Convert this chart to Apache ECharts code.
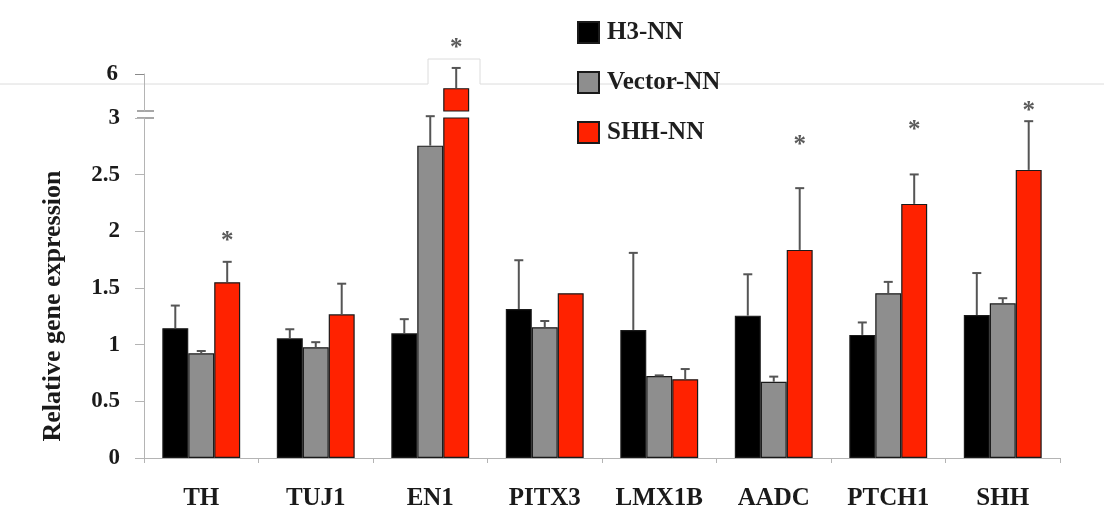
<!DOCTYPE html>
<html>
<head>
<meta charset="utf-8">
<script src="https://cdn.jsdelivr.net/npm/echarts@6/dist/echarts.min.js"></script>
<style>
  html, body { margin: 0; padding: 0; background: #fff; }
  #chart { width: 1104px; height: 512px; }
</style>
</head>
<body>
<div id="chart"></div>
<script>
// Relative expression of marker genes in three neuron cultures (mean, upper SD)
const genes = ['TH', 'TUJ1', 'EN1', 'PITX3', 'LMX1B', 'AADC', 'PTCH1', 'SHH'];
const seriesNames = ['H3-NN', 'Vector-NN', 'SHH-NN'];

const h3 = [1.145, 1.056, 1.10, 1.315, 1.13, 1.256, 1.086, 1.262];
const h3Err = [0.20, 0.08, 0.125, 0.43, 0.68, 0.365, 0.11, 0.37];

const vector = [0.924, 0.977, 2.756, 1.154, 0.724, 0.673, 1.454, 1.365];
const vectorErr = [0.02, 0.045, 0.26, 0.055, 0.005, 0.045, 0.10, 0.045];

const shh = [1.551, 1.268, 5.874, 1.454, 0.695, 1.836, 2.242, 2.542];
const shhErr = [0.18, 0.27, 0.18, 0, 0.09, 0.545, 0.26, 0.43];

// Height at which a significance star is drawn over the SHH-NN bar (null = none)
const sigMarks = [1.95, null, 6.27, null, null, 2.80, 2.93, 3.10];

const lowerTicks = [0, 0.5, 1, 1.5, 2, 2.5, 3];
const upperTicks = [6];

// Broken value axis: lower segment 0..3, upper segment 5.67..6
const LOWER_MIN = 0, LOWER_MAX = 3;
const UPPER_MIN = 5.67, UPPER_MAX = 6;

const COLORS = ['#000000', '#8e8e8e', '#ff2200'];
const CAT_GAP = 0.32;
const FONT = "'Liberation Serif', 'Times New Roman', serif";

const GRID_LEFT = 144, GRID_RIGHT = 44;
const LOWER_TOP = 118, LOWER_BOTTOM = 54;
const UPPER_TOP = 74, UPPER_HEIGHT = 37;

const valueSets = [h3, vector, shh];
const errorSets = [h3Err, vectorErr, shhErr];

function barSeries(gridIdx) {
  return valueSets.map((vals, s) => ({
    name: seriesNames[s],
    type: 'bar',
    xAxisIndex: gridIdx,
    yAxisIndex: gridIdx,
    data: vals,
    barGap: '0%',
    barCategoryGap: (CAT_GAP * 100) + '%',
    itemStyle: { color: COLORS[s], borderColor: '#1a1a1a', borderWidth: 1.2 },
    emphasis: { disabled: true },
    z: 2
  }));
}

// Upper error whisker with a cap, drawn only where the bar top lies in [lo, hi]
function errorSeries(gridIdx, slot, lo, hi) {
  const vals = valueSets[slot], errs = errorSets[slot];
  return {
    type: 'custom',
    xAxisIndex: gridIdx,
    yAxisIndex: gridIdx,
    clip: false,
    silent: true,
    z: 3,
    data: vals.map((v, i) => [i, v, v + errs[i], errs[i]]),
    renderItem(params, api) {
      const v = api.value(1), top = api.value(2), e = api.value(3);
      if (!(e > 0) || v < lo || v > hi) return null;
      const band = api.size([1, 0])[0];
      const barW = band * (1 - CAT_GAP) / 3;
      const cx = api.coord([api.value(0), v])[0] + (slot - 1) * barW;
      const y0 = api.coord([api.value(0), v])[1];
      const y1 = api.coord([api.value(0), top])[1];
      const cap = 4.5;
      const st = { stroke: '#555', lineWidth: 2 };
      return {
        type: 'group',
        children: [
          { type: 'line', shape: { x1: cx, y1: y0, x2: cx, y2: y1 }, style: st },
          { type: 'line', shape: { x1: cx - cap, y1: y1, x2: cx + cap, y2: y1 }, style: st }
        ]
      };
    }
  };
}

// Significance stars over the SHH-NN bars
function sigSeries(gridIdx, lo, hi) {
  return {
    type: 'custom',
    xAxisIndex: gridIdx,
    yAxisIndex: gridIdx,
    clip: false,
    silent: true,
    z: 4,
    data: sigMarks.map((v, i) => [i, v == null ? NaN : v]),
    renderItem(params, api) {
      const v = api.value(1);
      if (isNaN(v) || v < lo || v > hi) return null;
      const band = api.size([1, 0])[0];
      const barW = band * (1 - CAT_GAP) / 3;
      const p = api.coord([api.value(0), v]);
      return {
        type: 'text',
        x: p[0] + barW,
        y: p[1] + 5,
        style: {
          text: '*',
          fill: '#5a5a5a',
          font: 'bold 25px ' + FONT,
          textAlign: 'center',
          textVerticalAlign: 'middle'
        }
      };
    }
  };
}

const series = []
  .concat(barSeries(0))
  .concat(barSeries(1))
  .concat([0, 1, 2].map(s => errorSeries(0, s, LOWER_MIN, LOWER_MAX)))
  .concat([0, 1, 2].map(s => errorSeries(1, s, UPPER_MIN, Infinity)))
  .concat([sigSeries(0, -Infinity, 4), sigSeries(1, 4, Infinity)]);

const axisGray = '#b4b4b4';

const option = {
  animation: false,
  backgroundColor: '#ffffff',
  textStyle: { fontFamily: FONT },
  legend: {
    data: seriesNames,
    orient: 'vertical',
    left: 572,
    top: 15,
    icon: 'rect',
    itemWidth: 21,
    itemHeight: 21,
    itemGap: 25,
    selectedMode: false,
    textStyle: {
      fontFamily: FONT,
      fontSize: 25,
      fontWeight: 'bold',
      color: '#1e1e1e',
      lineHeight: 25,
      padding: [0, 0, 0, 3]
    }
  },
  grid: [
    { left: GRID_LEFT, right: GRID_RIGHT, top: LOWER_TOP, bottom: LOWER_BOTTOM },
    { left: GRID_LEFT, right: GRID_RIGHT, top: UPPER_TOP, height: UPPER_HEIGHT }
  ],
  xAxis: [
    {
      type: 'category',
      gridIndex: 0,
      data: genes,
      axisLine: { lineStyle: { color: axisGray, width: 1 } },
      axisTick: { show: true, length: 5, lineStyle: { color: axisGray } },
      axisLabel: {
        fontFamily: FONT,
        fontSize: 25,
        fontWeight: 'bold',
        color: '#1a1a1a',
        margin: 28,
        interval: 0
      },
      splitLine: { show: false }
    },
    {
      type: 'category',
      gridIndex: 1,
      data: genes,
      show: false
    }
  ],
  yAxis: [
    {
      type: 'value',
      gridIndex: 0,
      min: LOWER_MIN,
      max: LOWER_MAX,
      interval: 0.5,
      axisLine: { show: true, lineStyle: { color: axisGray, width: 1 } },
      axisTick: { show: true, length: 9, customValues: lowerTicks, lineStyle: { color: axisGray } },
      axisLabel: {
        customValues: lowerTicks,
        fontFamily: FONT,
        fontSize: 23,
        fontWeight: 'bold',
        color: '#1a1a1a',
        margin: 24
      },
      splitLine: { show: false }
    },
    {
      type: 'value',
      gridIndex: 1,
      min: UPPER_MIN,
      max: UPPER_MAX,
      axisLine: { show: true, lineStyle: { color: axisGray, width: 1 } },
      axisTick: { show: true, length: 9, customValues: upperTicks, lineStyle: { color: '#8a8a8a' } },
      axisLabel: {
        customValues: upperTicks,
        fontFamily: FONT,
        fontSize: 23,
        fontWeight: 'bold',
        color: '#1a1a1a',
        margin: 26
      },
      splitLine: { show: false }
    }
  ],
  graphic: [
    // thin frame line across the top of the figure
    {
      type: 'polyline',
      silent: true,
      z: -1,
      shape: { points: [[0, 84], [428, 84], [428, 59], [480, 59], [480, 84], [1104, 84]] },
      style: { stroke: '#dcdcdc', lineWidth: 1, fill: null }
    },
    // axis break marks between the two segments
    {
      type: 'line',
      silent: true,
      shape: { x1: GRID_LEFT - 7, y1: LOWER_TOP - 7, x2: GRID_LEFT + 10, y2: LOWER_TOP - 7 },
      style: { stroke: '#8a8a8a', lineWidth: 1.5 }
    },
    {
      type: 'line',
      silent: true,
      shape: { x1: GRID_LEFT - 7, y1: LOWER_TOP, x2: GRID_LEFT + 10, y2: LOWER_TOP },
      style: { stroke: '#8a8a8a', lineWidth: 1.5 }
    },
    // value axis title
    {
      type: 'text',
      silent: true,
      x: 53,
      y: 306,
      rotation: Math.PI / 2,
      style: {
        text: 'Relative gene expression',
        font: 'bold 26px ' + FONT,
        fill: '#1a1a1a',
        textAlign: 'center',
        textVerticalAlign: 'middle'
      }
    }
  ],
  series: series
};

const chart = echarts.init(document.getElementById('chart'), null, { renderer: 'canvas' });
chart.setOption(option);
</script>
</body>
</html>
